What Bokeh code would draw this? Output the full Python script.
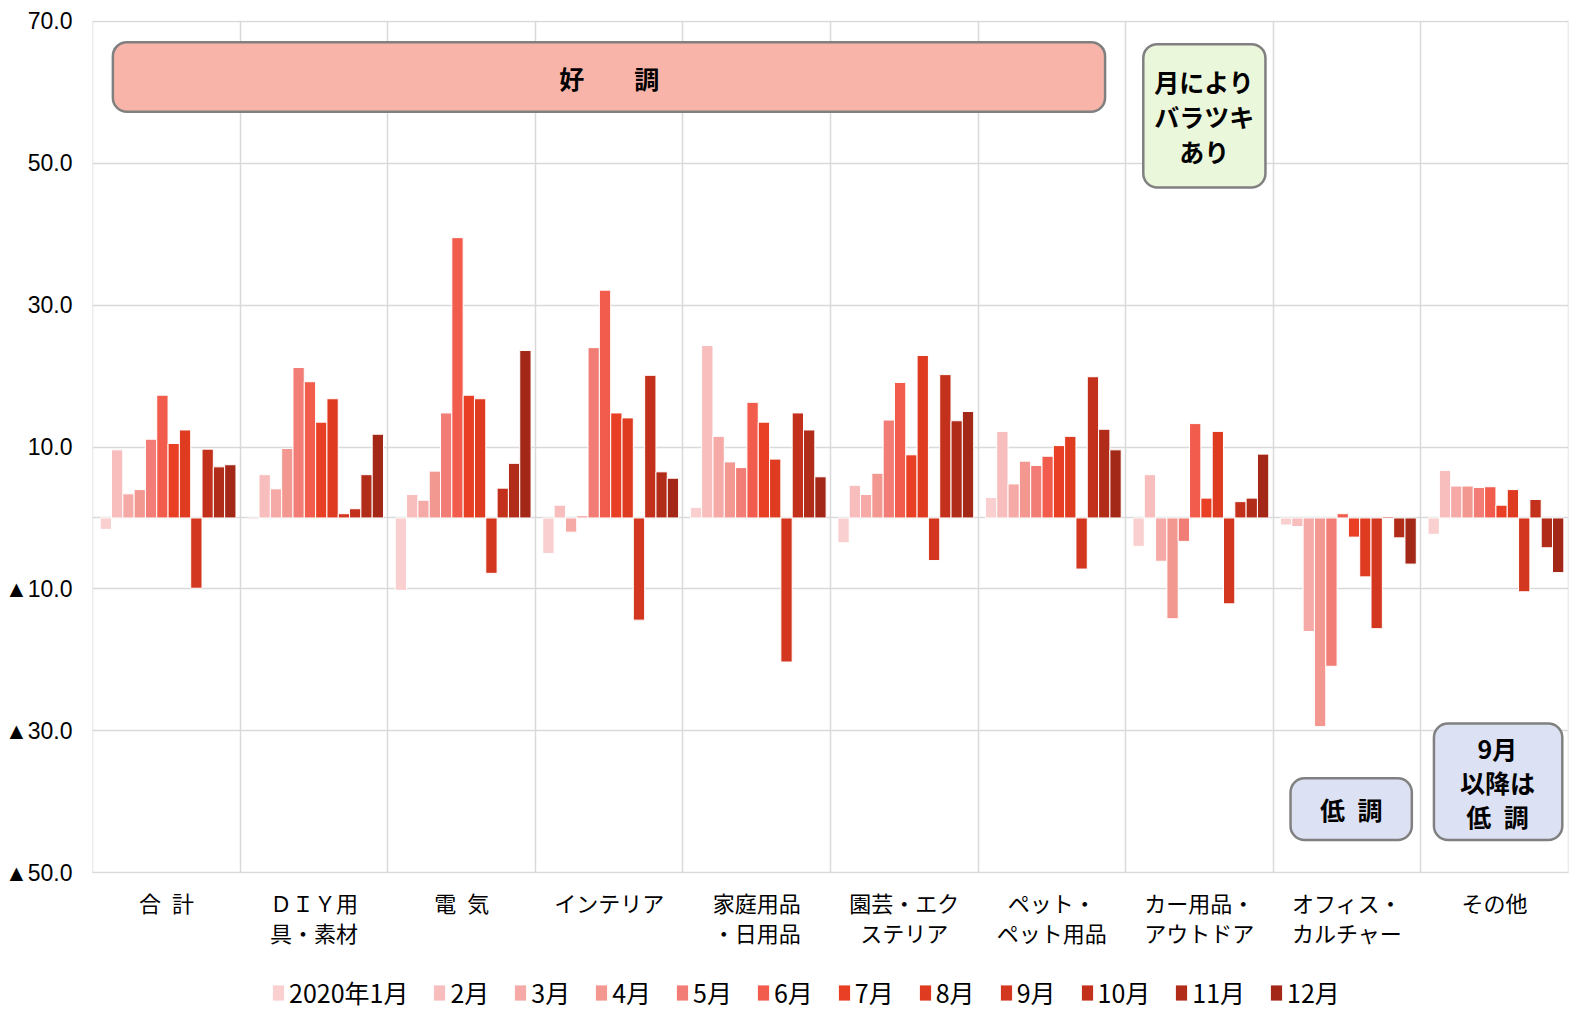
from bokeh.plotting import figure
from bokeh.layouts import column
from bokeh.models import Range1d, FixedTicker, Legend, LegendItem, BoxAnnotation, ColumnDataSource, LinearAxis
from bokeh.core.properties import value
from bokeh.embed import file_html
from bokeh.resources import INLINE

# ---------------- data ----------------
cat_line1 = ["合\u2002計", "ＤＩＹ用", "電\u2002気", "インテリア", "家庭用品",
             "園芸・エク", "ペット・", "カー用品・", "オフィス・", "その他"]
cat_line2 = ["", "具・素材", "", "", "・日用品",
             "ステリア", "ペット用品", "アウトドア", "カルチャー", ""]
months = ["2020年1月", "2月", "3月", "4月", "5月", "6月", "7月", "8月", "9月", "10月", "11月", "12月"]
colors = ["#F9CFCF", "#F8BDBD", "#F5AAA7", "#F39791", "#F27D76", "#F25C4D",
          "#E94025", "#DE3B21", "#D4371F", "#C3311C", "#B22C1A", "#A32817"]

m01 = [-1.6, -0.2, -10.2, -5.0, 1.5, -3.5, 2.9, -4.0, -1.0, -2.3]
m02 = [9.6, 6.1, 3.3, 1.8, 24.3, 4.6, 12.2, 6.1, -1.2, 6.7]
m03 = [3.4, 4.1, 2.5, -2.0, 11.5, 3.3, 4.8, -6.1, -16.0, 4.5]
m04 = [4.0, 9.8, 6.6, 0.3, 7.9, 6.3, 8.0, -14.2, -29.4, 4.5]
m05 = [11.1, 21.2, 14.8, 24.0, 7.1, 13.8, 7.4, -3.3, -20.9, 4.3]
m06 = [17.3, 19.2, 39.5, 32.1, 16.3, 19.1, 8.7, 13.3, 0.6, 4.4]
m07 = [10.5, 13.5, 17.3, 14.8, 13.5, 8.9, 10.2, 2.8, -2.7, 1.8]
m08 = [12.4, 16.8, 16.8, 14.1, 8.3, 22.9, 11.5, 12.2, -8.3, 4.0]
m09 = [-9.9, 0.6, -7.8, -14.4, -20.3, -6.0, -7.2, -12.1, -15.6, -10.4]
m10 = [9.7, 1.3, 4.2, 20.1, 14.8, 20.2, 19.9, 2.3, 0.2, 2.6]
m11 = [7.2, 6.1, 7.7, 6.5, 12.4, 13.7, 12.5, 2.8, -2.8, -4.2]
m12 = [7.5, 11.8, 23.6, 5.6, 5.8, 15.0, 9.6, 9.0, -6.5, -7.7]
series = [m01, m02, m03, m04, m05, m06, m07, m08, m09, m10, m11, m12]

y_ticks = [-50, -30, -10, 10, 30, 50, 70]
y_tick_labels = ["▲50.0", "▲30.0", "▲10.0", "10.0", "30.0", "50.0", "70.0"]

# callout boxes: (left, right, top, bottom) in category / value units, fill colour
boxes = [
    (-0.364, 6.361, 67.05, 57.23, "#F8B4A8"),
    (6.62, 7.448, 66.77, 46.56, "#EBF7DB"),
    (7.618, 8.44, -36.67, -45.37, "#DCE1F3"),
    (8.59, 9.46, -28.95, -45.37, "#DCE1F3"),
]
note_text = ["好\u3000\u3000調", "月により", "バラツキ", "あり", "低\u2002調", "9月", "以降は", "低\u2002調"]
note_x = [3.0, 7.034, 7.034, 7.034, 8.03, 9.02, 9.02, 9.02]
note_y = [62.0, 61.58, 56.67, 51.75, -41.0, -32.46, -37.23, -42.0]

# ---------------- main figure ----------------
n_cat = len(cat_line1)
n_m = len(months)
pad_left = 0.05
bw = 0.0767

p = figure(width=1572, height=950, output_backend="svg", toolbar_location=None,
           x_range=Range1d(-0.502, n_cat - 0.5 + 0.002), y_range=Range1d(-50.1, 70.1),
           min_border_left=92, min_border_right=4, min_border_top=20, min_border_bottom=75)
p.outline_line_color = None
p.background_fill_color = "white"

grid_color = "#D9D9D9"
p.xgrid.ticker = FixedTicker(ticks=[i - 0.5 for i in range(n_cat + 1)])
p.xgrid.grid_line_color = grid_color
p.xgrid.grid_line_width = 1.5
p.ygrid.ticker = FixedTicker(ticks=sorted(y_ticks + [0]))
p.ygrid.grid_line_color = grid_color
p.ygrid.grid_line_width = 1.5

for j in range(n_m):
    xs = [i - 0.5 + pad_left + (j + 0.5) * bw for i in range(n_cat)]
    src = ColumnDataSource(dict(x=xs, top=series[j]))
    p.vbar(x="x", top="top", bottom=0, width=bw, source=src,
           fill_color=colors[j], line_color="white", line_width=1)

# axes
yax = p.yaxis[0]
yax.ticker = FixedTicker(ticks=y_ticks)
yax.major_label_overrides = {t: l for t, l in zip(y_ticks, y_tick_labels)}
yax.axis_line_color = None
yax.major_tick_line_color = None
yax.minor_tick_line_color = None
yax.major_tick_out = 0
yax.major_tick_in = 0
yax.minor_tick_out = 0
yax.minor_tick_in = 0
yax.major_label_text_font = "Liberation Sans"
yax.major_label_text_font_size = "23px"
yax.major_label_text_color = "black"
yax.major_label_standoff = 20


def style_xaxis(ax, labels, standoff, size="22px"):
    ax.ticker = FixedTicker(ticks=list(range(n_cat)))
    ax.major_label_overrides = {i: c for i, c in enumerate(labels)}
    ax.axis_line_color = None
    ax.major_tick_line_color = None
    ax.minor_tick_line_color = None
    ax.major_tick_out = 0
    ax.major_tick_in = 0
    ax.minor_tick_out = 0
    ax.minor_tick_in = 0
    ax.major_label_text_font = "Noto Sans CJK JP"
    ax.major_label_text_font_size = size
    ax.major_label_text_color = "black"
    ax.major_label_standoff = standoff


style_xaxis(p.xaxis[0], cat_line1, 12)
ax2 = LinearAxis()
style_xaxis(ax2, cat_line2, -5)
p.add_layout(ax2, "below")

# callouts
for (l, r_, t, b, fc) in boxes:
    p.add_layout(BoxAnnotation(left=l, right=r_, top=t, bottom=b, fill_color=fc, fill_alpha=1.0,
                               line_color="#808080", line_alpha=1.0, line_width=2.5,
                               border_radius=14))
p.text(x=note_x, y=note_y, text=note_text, text_font=value("Noto Sans CJK JP"),
       text_font_style="bold", text_font_size="25px", text_color="black",
       text_align="center", text_baseline="middle", level="overlay")

# ---------------- legend strip ----------------
pl = figure(width=1572, height=60, output_backend="svg", toolbar_location=None,
            x_range=Range1d(0, 1), y_range=Range1d(0, 1),
            x_axis_location=None, y_axis_location=None, min_border=0)
pl.grid.visible = False
pl.outline_line_color = None
items = []
for j in range(n_m):
    # off-range placeholder bar, only used to draw the legend swatch
    r = pl.vbar(x=[-10], top=[0], bottom=0, width=0.1, fill_color=colors[j],
                line_color=None)
    items.append(LegendItem(label=months[j], renderers=[r]))
legend = Legend(items=items, orientation="horizontal", location=(179, 0),
                glyph_width=14, glyph_height=19, label_standoff=4, spacing=24,
                padding=0, margin=0, border_line_color=None, background_fill_alpha=0,
                label_text_font="Noto Sans CJK JP", label_text_font_size="25px",
                label_text_color="black")
pl.add_layout(legend, "center")

layout = column(p, pl, spacing=0)
open("out.html", "w").write(file_html(layout, INLINE))
